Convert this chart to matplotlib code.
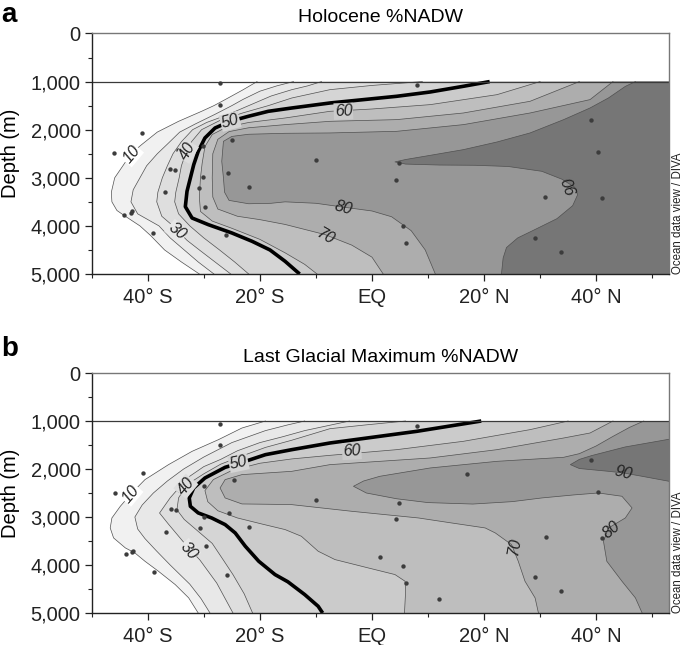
import numpy as np
import matplotlib
matplotlib.use("Agg")
import matplotlib.pyplot as plt
from matplotlib.patches import Polygon, Rectangle

plt.rcParams['font.family'] = ['Liberation Sans', 'DejaVu Sans']

# ---------------- DATA ----------------
levels = [10, 20, 30, 40, 50, 60, 70, 80, 90]
band_colors = ['#ffffff', '#f1f1f1', '#e8e8e8', '#dedede', '#d5d5d5',
               '#cbcbcb', '#bebebe', '#adadad', '#979797', '#767676']

lon_ticks = [-40, -20, 0, 20, 40]
lon_tick_labels = ['40° S', '20° S', 'EQ', '20° N', '40° N']
depth_ticks = [0, 1000, 2000, 3000, 4000, 5000]
depth_tick_labels = ['0', '1,000', '2,000', '3,000', '4,000', '5,000']

# Holocene contours (lon, depth)
top_c10 = [(-20.5, 1000), (-23, 1170), (-26.2, 1375), (-28.2, 1500), (-30.4, 1618),
           (-34.5, 1826), (-38.3, 2050), (-41.1, 2311), (-43, 2500), (-44.5, 2761),
           (-45.9, 3000), (-46.5, 3300), (-46.4, 3500), (-45.5, 3680), (-44, 3800),
           (-41.4, 4000), (-39.5, 4200), (-37, 4500), (-34, 4750), (-30.8, 5000)]
top_c20 = [(-14, 1000), (-17, 1090), (-20, 1200), (-23, 1370), (-25, 1500),
           (-28, 1680), (-31.5, 1880), (-34.3, 2050), (-36.5, 2300), (-38.3, 2500),
           (-40.2, 2750), (-41.4, 3000), (-42.6, 3250), (-43, 3500), (-41.8, 3750),
           (-38, 4000), (-36, 4250), (-33.5, 4500), (-31, 4750), (-28.2, 5000)]
top_c30 = [(-9, 1000), (-11.5, 1090), (-14.3, 1168), (-18, 1300), (-22, 1500),
           (-26, 1700), (-29.5, 1850), (-32, 2000), (-34, 2250), (-35.5, 2500),
           (-36.5, 2750), (-37.4, 3000), (-38.2, 3300), (-38.4, 3500), (-37.5, 3800),
           (-35.5, 4000), (-33, 4300), (-30.8, 4500), (-28, 4750), (-25.2, 5000)]
top_c40 = [(9, 1000), (0, 1080), (-7.5, 1168), (-14.3, 1341), (-18.5, 1500),
           (-23, 1650), (-27, 1800), (-30.4, 2000), (-32.2, 2250), (-33.1, 2450),
           (-34, 2750), (-34.4, 3000), (-35, 3300), (-35.2, 3500), (-34.5, 3750),
           (-32.5, 4000), (-30, 4250), (-27.2, 4500), (-24.5, 4750), (-22, 5000)]
top_c50 = [(21, 1000), (16.3, 1098), (10.4, 1216), (4.4, 1306), (-7.5, 1445),
           (-14.3, 1549), (-18.5, 1618), (-22, 1720), (-25.3, 1826), (-28, 1965),
           (-29.8, 2172), (-31, 2450), (-31.8, 2727), (-32.4, 3004), (-33, 3281),
           (-33.3, 3600), (-32.1, 3836), (-29.2, 3974), (-25, 4147), (-21.4, 4320),
           (-18.2, 4500), (-15.5, 4736), (-12.9, 5000)]
top_c60 = [(30, 1000), (22.3, 1272), (10.4, 1479), (0, 1570), (-7.5, 1618),
           (-15.5, 1757), (-22, 1850), (-26, 1950), (-28.5, 2100), (-29.8, 2350),
           (-30.3, 2700), (-30.6, 3000), (-30.8, 3400), (-30.6, 3700), (-28.5, 3900),
           (-25, 4050), (-20, 4280), (-15.5, 4560), (-12, 4800), (-9.8, 5000)]
top_c70 = [(37, 1000), (28.2, 1410), (16.3, 1653), (4.4, 1791), (-7.5, 1826),
           (-15.5, 1895), (-22, 1960), (-25.5, 2040), (-27.5, 2200), (-28.4, 2500),
           (-28.5, 3000), (-28.4, 3400), (-27.5, 3650), (-24, 3800), (-20, 3870),
           (-15.5, 3970), (-8.4, 4180), (-3.6, 4400), (0, 4650), (2, 5000)]
top_c80 = [(43, 1000), (38.9, 1375), (28.2, 1653), (16.3, 1895), (4.4, 2034),
           (-7.5, 2068), (-15.5, 2075), (-22, 2095), (-25, 2140), (-26.5, 2242),
           (-26.8, 2658), (-26.5, 3004), (-26.3, 3300), (-25.5, 3470), (-22, 3540),
           (-18, 3530), (-15.5, 3500), (-10, 3530), (-5.1, 3610), (0, 3690),
           (3.5, 3810), (7, 4100), (9.5, 4500), (11.3, 5000)]
top_c90 = [(47, 1000), (45.2, 1100), (42.2, 1340), (38.9, 1549), (34.2, 1791),
           (28.2, 2068), (22.3, 2256), (16.3, 2415), (10.4, 2533), (6, 2620),
           (4.1, 2670), (6, 2715), (12, 2735), (18.4, 2740), (24.3, 2765),
           (30.3, 2865), (33.9, 3030), (36.2, 3200), (36.7, 3350), (35.8, 3580),
           (33, 3850), (29, 4080), (26, 4250), (24, 4450), (23.4, 4667), (23.1, 5000)]

# Last Glacial Maximum contours (lon, depth)
bot_c10 = [(-19, 1000), (-23.2, 1146), (-27.4, 1389), (-32.1, 1632), (-36.3, 1909),
           (-40.5, 2221), (-43, 2520), (-44.9, 2777), (-46.4, 3020), (-46.7, 3228),
           (-46.1, 3436), (-44, 3644), (-42.3, 3748), (-40.5, 3922), (-38.1, 4130),
           (-35.1, 4408), (-32.7, 4685), (-31, 5000)]
bot_c20 = [(-12, 1000), (-15, 1080), (-19, 1200), (-25, 1450), (-30, 1750),
           (-33.6, 2000), (-36.5, 2250), (-39, 2500), (-41, 2750), (-42.3, 3000),
           (-41.8, 3250), (-40.5, 3450), (-38.5, 3700), (-36, 4000), (-32.5, 4400),
           (-30.5, 4700), (-28.9, 5000)]
bot_c30 = [(-4, 1000), (-8, 1100), (-12, 1200), (-16, 1330), (-20, 1450),
           (-24, 1620), (-27, 1800), (-30, 1950), (-32.5, 2150), (-34.5, 2400),
           (-36, 2600), (-37.9, 2917), (-36.3, 3150), (-34.5, 3400), (-32.7, 3650),
           (-30.7, 3896), (-27.7, 4375), (-24.8, 5000)]
bot_c40 = [(6, 1000), (-1, 1080), (-7.5, 1160), (-14.3, 1400), (-19, 1550),
           (-23, 1720), (-27, 1900), (-30, 2100), (-32, 2250), (-33.2, 2360),
           (-34.5, 2600), (-34.8, 2850), (-33.5, 3050), (-31, 3300), (-28.5, 3550),
           (-26.5, 3900), (-24.8, 4200), (-22.8, 4600), (-21.3, 5000)]
bot_c50 = [(19.5, 1000), (8, 1215), (-7.5, 1458), (-14.3, 1597), (-19, 1701),
           (-22.6, 1840), (-26.2, 1965), (-29.8, 2187), (-31.8, 2395), (-32.6, 2603),
           (-32.4, 2777), (-31, 2915), (-28.6, 3020), (-26.2, 3158), (-24.4, 3332),
           (-22.6, 3609), (-20.2, 3922), (-17.3, 4199), (-15, 4350), (-12, 4616),
           (-9.6, 4860), (-8.8, 5000)]
bot_c60 = [(35, 1000), (28.2, 1180), (16.3, 1423), (4.4, 1597), (-7.5, 1715),
           (-14.3, 1790), (-20, 1880), (-25, 2030), (-28.3, 2220), (-29.8, 2450),
           (-29.3, 2680), (-27.5, 2870), (-24, 3020), (-19.5, 3150), (-15.5, 3262),
           (-12.6, 3401), (-9.6, 3713), (-6.6, 3887), (-0.7, 4060), (4.1, 4199),
           (5.9, 4338), (6, 4546), (5.8, 5000)]
bot_c70 = [(43, 1000), (38.9, 1250), (34.2, 1354), (22.3, 1597), (10.4, 1770),
           (-7.5, 1909), (-14.3, 2048), (-23.2, 2117), (-26.2, 2221), (-27.1, 2395),
           (-26.2, 2603), (-23.2, 2728), (-14.5, 2740), (-3.6, 2881), (2.3, 2950),
           (8.3, 3020), (14.2, 3124), (20.2, 3228), (22, 3332), (24.9, 3575),
           (26.1, 3922), (27.3, 4338), (29.1, 4685), (29.7, 5000)]
bot_c80 = [(48.5, 1000), (46, 1130), (43, 1320), (40, 1520), (37, 1680),
           (34.2, 1756), (28, 1800), (22.3, 1840), (10.4, 1978), (1.4, 2152),
           (-1.5, 2250), (-3.3, 2360), (-1, 2500), (4.4, 2620), (10, 2700),
           (18, 2730), (25, 2680), (30.3, 2603), (36, 2540), (40.4, 2499),
           (44.6, 2568), (46.4, 2811), (45.2, 3020), (42.2, 3228), (41.3, 3505),
           (41.9, 3922), (44.6, 4338), (47, 4685), (48.2, 5000)]
bot_c90 = [(53, 1380), (45.2, 1540), (39.2, 1720), (37, 1800), (35.4, 1909),
           (37, 1990), (42.2, 2048), (44.9, 2083), (48.2, 2152), (53, 2256)]

# core sites
top_dot_lon = [-27.2, -27.2, -41.1, -46.0, -34.6, -30.1, -24.9, -36.0, -35.1, -25.6,
               -30.1, -30.8, -22.0, -37.0, -29.8, -44.2, -43.0, -42.9, -39.0, -26.0,
               8.0, -10.0, 4.9, 4.2, 5.6, 6.0,
               39.0, 40.4, 30.9, 41.1, 29.1, 33.7]
top_dot_dep = [1029, 1493, 2068, 2484, 2429, 2332, 2221, 2817, 2831, 2907,
               2990, 3212, 3198, 3302, 3600, 3766, 3732, 3697, 4141, 4196,
               1077, 2623, 2692, 3039, 4009, 4355,
               1791, 2470, 3406, 3420, 4251, 4542]
bot_dot_lon = [-27.1, -27.1, -40.9, -45.8, -34.4, -29.9, -24.7, -35.9, -34.9, -25.5,
               -29.9, -30.7, -21.9, -36.8, -29.6, -43.9, -42.9, -42.7, -38.8, -25.9,
               8.0, -9.9, 4.9, 4.3, 1.5, 5.6, 6.1, 12.0, 16.9,
               39.0, 40.4, 31.0, 41.1, 29.1, 33.7]
bot_dot_dep = [1055, 1507, 2083, 2499, 2443, 2346, 2228, 2825, 2846, 2915,
               3000, 3221, 3207, 3318, 3609, 3769, 3734, 3700, 4144, 4199,
               1097, 2638, 2700, 3040, 3831, 4012, 4366, 4713, 2099,
               1805, 2478, 3415, 3429, 4255, 4546]

# contour labels
top_lab_text = ['10', '40', '50', '60', '80', '70', '30', '90']
top_lab_lon = [-42.9, -33.0, -25.3, -5.1, -5.1, -8.4, -34.8, 35.6]
top_lab_dep = [2519, 2450, 1826, 1618, 3628, 4217, 4113, 3150]
top_lab_rot = [50, 60, 15, 2, -15, -30, -40, 110]
top_lab_lev = [10, 40, 50, 60, 80, 70, 30, 90]

bot_lab_text = ['10', '40', '50', '60', '30', '70', '90', '80']
bot_lab_lon = [-43.0, -33.2, -23.8, -3.6, -32.7, 25.5, 44.9, 42.8]
bot_lab_dep = [2520, 2360, 1874, 1632, 3700, 3609, 2083, 3262]
bot_lab_rot = [50, 50, 12, 3, -50, 80, -15, 40]
bot_lab_lev = [10, 40, 50, 60, 30, 70, 90, 80]

top_contours = [top_c10, top_c20, top_c30, top_c40, top_c50,
                top_c60, top_c70, top_c80, top_c90]
bot_contours = [bot_c10, bot_c20, bot_c30, bot_c40, bot_c50,
                bot_c60, bot_c70, bot_c80, bot_c90]

LON_MIN, LON_MAX = -50, 53


def draw_panel(ax, contours, dot_lon, dot_dep, lab_text, lab_lon, lab_dep,
               lab_rot, lab_lev, title, letter, letter_y):

    # base band (values below 10)
    ax.add_patch(Rectangle((LON_MIN, 1000), LON_MAX - LON_MIN + 10, 4000,
                           facecolor=band_colors[0], edgecolor='none', zorder=1))

    # filled bands, east side of every contour is the higher value
    for i, pts in enumerate(contours):
        first, last = pts[0], pts[-1]
        poly = list(pts) + [(LON_MAX + 10, last[1]), (LON_MAX + 10, first[1])]
        ax.add_patch(Polygon(poly, closed=True, facecolor=band_colors[i + 1],
                             edgecolor='none', zorder=1 + i * 0.01))

    # contour lines
    for lev, pts in zip(levels, contours):
        xs = [p[0] for p in pts]
        ys = [p[1] for p in pts]
        if lev == 50:
            ax.plot(xs, ys, color='black', lw=2.6, zorder=3,
                    solid_capstyle='butt')
        else:
            ax.plot(xs, ys, color='#505050', lw=0.5, zorder=2)

    # core sites
    ax.scatter(dot_lon, dot_dep, s=10, color='#3c3c3c', zorder=4, linewidths=0)

    # contour labels (light ones get a small gap in the line)
    for t, x, y, r, lev in zip(lab_text, lab_lon, lab_dep, lab_rot, lab_lev):
        box = None
        if lev <= 60:
            i = levels.index(lev)
            box = dict(boxstyle='square,pad=0.05', fc=band_colors[i], ec='none')
        ax.text(x, y, t, rotation=r, ha='center', va='center',
                fontsize=11.5, style='italic', color='#222222', zorder=5,
                rotation_mode='anchor', bbox=box)

    ax.axhline(1000, color='#3a3a3a', lw=0.9, zorder=6)

    ax.set_xlim(LON_MIN, LON_MAX)
    ax.set_ylim(5000, 0)

    ax.set_xticks(lon_ticks)
    ax.set_xticklabels(lon_tick_labels)
    ax.set_xticks([-50, -30, -10, 10, 30, 50], minor=True)
    ax.set_yticks(depth_ticks)
    ax.set_yticklabels(depth_tick_labels)
    ax.set_yticks([500, 1500, 2500, 3500, 4500], minor=True)

    ax.tick_params(axis='both', which='major', direction='out', length=5,
                   width=0.9, labelsize=14.5, pad=3, colors='#222222')
    ax.tick_params(axis='both', which='minor', direction='out', length=3,
                   width=0.8, colors='#222222')
    ax.tick_params(axis='x', which='major', pad=5)

    for side in ['top', 'right']:
        ax.spines[side].set_color('#777777')
        ax.spines[side].set_linewidth(1.0)
    for side in ['left', 'bottom']:
        ax.spines[side].set_color('#222222')
        ax.spines[side].set_linewidth(1.0)
    for sp in ax.spines.values():
        sp.set_zorder(7)

    ax.set_ylabel('Depth (m)', fontsize=14.5)
    ax.yaxis.set_label_coords(-0.124, 0.5)

    ax.set_title(title, fontsize=14, pad=8)

    ax.text(1.016, 0.0, 'Ocean data view / DIVA', transform=ax.transAxes,
            rotation=90, ha='center', va='bottom', fontsize=8.3,
            color='#222222')

    ax.figure.text(0.002, letter_y, letter, fontsize=20, fontweight='bold',
                   ha='left', va='center')


fig = plt.figure(figsize=(6.85, 6.45), dpi=100)

ax_top = fig.add_axes([0.1339, 0.5752, 0.8428, 0.3729])
ax_bot = fig.add_axes([0.1339, 0.0496, 0.8428, 0.3721])

draw_panel(ax_top, top_contours, top_dot_lon, top_dot_dep,
           top_lab_text, top_lab_lon, top_lab_dep, top_lab_rot, top_lab_lev,
           'Holocene %NADW', 'a', 1 - 15 / 645)
draw_panel(ax_bot, bot_contours, bot_dot_lon, bot_dot_dep,
           bot_lab_text, bot_lab_lon, bot_lab_dep, bot_lab_rot, bot_lab_lev,
           'Last Glacial Maximum %NADW', 'b', 1 - 349 / 645)

fig.savefig('out.png', dpi=100)
